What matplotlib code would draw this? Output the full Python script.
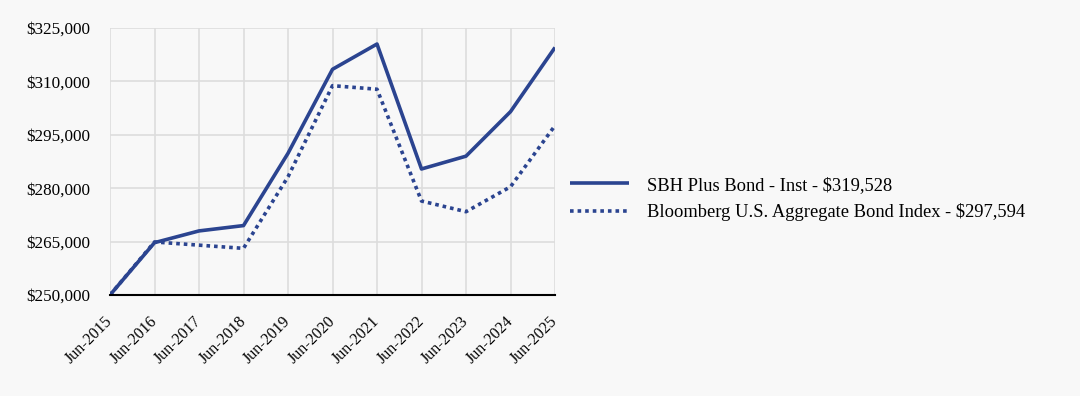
import matplotlib.pyplot as plt
from matplotlib.ticker import FuncFormatter

years = ["Jun-2015", "Jun-2016", "Jun-2017", "Jun-2018", "Jun-2019", "Jun-2020",
         "Jun-2021", "Jun-2022", "Jun-2023", "Jun-2024", "Jun-2025"]
fund = [250000, 264700, 268000, 269500, 289800, 313400, 320500, 285400, 289000, 301500, 319528]
index = [250000, 264900, 264000, 263100, 283200, 308800, 307800, 276400, 273400, 280400, 297594]
fund_label = "SBH Plus Bond - Inst - $319,528"
index_label = "Bloomberg U.S. Aggregate Bond Index - $297,594"

color = "#2b4490"
bg = "#f8f8f8"

plt.rcParams['font.family'] = ['Liberation Serif', 'DejaVu Serif']

fig = plt.figure(figsize=(10.8, 3.96), dpi=100, facecolor=bg)
ax = fig.add_axes([110/1080, 1-295/396, 445/1080, 267/396])
ax.set_facecolor(bg)

x = list(range(len(years)))
ax.plot(x, fund, color=color, lw=2.6, label=fund_label, solid_capstyle='butt')
ax.plot(x, index, color=color, lw=2.6, ls=(0, (1, 1.1)), label=index_label,
        dash_capstyle='butt')

ax.set_xlim(0, len(years) - 1)
ax.set_ylim(250000, 325000)
ax.set_yticks(range(250000, 325001, 15000))
ax.yaxis.set_major_formatter(FuncFormatter(lambda v, p: f"${v:,.0f}"))
ax.set_xticks(x)
ax.set_xticklabels(years, rotation=45, ha='right', va='center', rotation_mode='anchor')
ax.tick_params(length=0, colors='black')
ax.tick_params(axis='y', pad=14, labelsize=12.3)
ax.tick_params(axis='x', pad=17, labelsize=11.5)
ax.grid(True, color='#dddddd', lw=1.2)
ax.set_axisbelow(True)
for s in ['top', 'right', 'left']:
    ax.spines[s].set_visible(False)
ax.spines['bottom'].set_color('black')
ax.spines['bottom'].set_linewidth(1.5)

fig.legend(loc='center left', bbox_to_anchor=(553/1080, 1-199/396), frameon=False,
           fontsize=13.3, handlelength=3.2, handletextpad=1.0, labelspacing=0.5)

fig.savefig("out.png", dpi=100, facecolor=bg)
